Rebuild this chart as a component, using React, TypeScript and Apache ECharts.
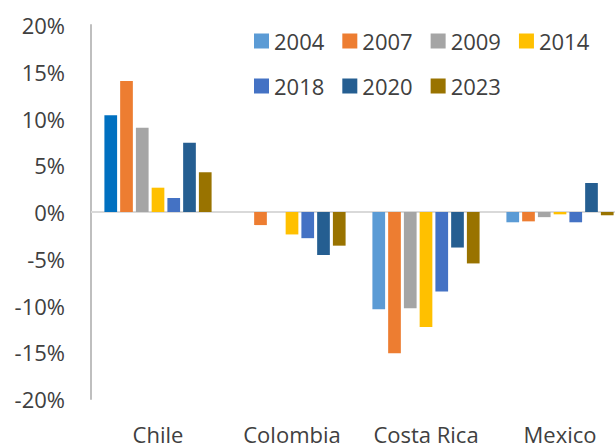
import React, { useEffect, useRef } from "react";
import * as echarts from "echarts";

const categories = ["Chile", "Colombia", "Costa Rica", "Mexico"];
const years = ["2004", "2007", "2009", "2014", "2018", "2020", "2023"];
const colors = ["#5B9BD5", "#ED7D31", "#A5A5A5", "#FFC000", "#4472C4", "#255E91", "#997300"];

const v2004: (number | null)[] = [10.35, null, -10.4, -1.1];
const v2007: (number | null)[] = [14.0, -1.4, -15.1, -1.0];
const v2009: (number | null)[] = [9.0, null, -10.3, -0.55];
const v2014: (number | null)[] = [2.6, -2.4, -12.3, -0.25];
const v2018: (number | null)[] = [1.5, -2.8, -8.5, -1.1];
const v2020: (number | null)[] = [7.4, -4.6, -3.8, 3.1];
const v2023: (number | null)[] = [4.25, -3.6, -5.5, -0.35];

const seriesValues = [v2004, v2007, v2009, v2014, v2018, v2020, v2023];

const yMin = -20;
const yMax = 20;
const yInterval = 5;

const chileHighlightColor = "#0070C0";

export default function App() {
  const ref = useRef<HTMLDivElement>(null);

  useEffect(() => {
    if (!ref.current) return;
    const chart = echarts.init(ref.current, undefined, { renderer: "svg" });
    const textColor = "#404040";
    const font = "Open Sans";

    const series: any[] = years.map((y, i) => ({
      name: y,
      type: "bar",
      barWidth: 12.7,
      barGap: "24%",
      itemStyle: { color: colors[i] },
      data: seriesValues[i].map((v, ci) =>
        i === 0 && ci === 0 ? { value: v, itemStyle: { color: chileHighlightColor } } : v
      ),
      ...(i === 0
        ? {
            markLine: {
              silent: true,
              symbol: ["none", "none"],
              label: { show: false },
              lineStyle: { type: "solid", color: "#D9D9D9", width: 2 },
              data: [{ yAxis: 0 }],
              z: 1,
            },
          }
        : {}),
    }));

    const legendCommon = {
      icon: "rect",
      itemWidth: 15,
      itemHeight: 15,
      itemGap: 18,
      padding: 0,
      left: 254,
      orient: "horizontal",
      textStyle: { fontSize: 22, color: textColor, fontFamily: font, lineHeight: 24 },
    };

    chart.setOption({
      animation: false,
      textStyle: { fontFamily: font },
      legend: [
        { ...legendCommon, top: 29, data: years.slice(0, 4) },
        { ...legendCommon, top: 74, data: years.slice(4) },
      ],
      grid: {
        left: 91,
        top: 25,
        width: 536,
        height: 374,
        containLabel: false,
        outerBoundsMode: "none",
      },
      xAxis: {
        type: "category",
        data: categories,
        axisLine: { show: false, onZero: false },
        axisTick: { show: false },
        axisLabel: {
          fontSize: 22,
          lineHeight: 22,
          color: textColor,
          fontFamily: font,
          margin: 24,
          interval: 0,
        },
      },
      yAxis: {
        type: "value",
        min: yMin,
        max: yMax,
        interval: yInterval,
        axisLine: { show: true, lineStyle: { color: "#BFBFBF", width: 2 } },
        axisTick: { show: false },
        splitLine: { show: false },
        axisLabel: {
          fontSize: 22,
          color: textColor,
          fontFamily: font,
          margin: 26,
          formatter: "{value}%",
        },
      },
      series,
    });

    return () => chart.dispose();
  }, []);

  return <div ref={ref} style={{ width: 615, height: 446, position: "absolute", left: 0, top: 0 }} />;
}
